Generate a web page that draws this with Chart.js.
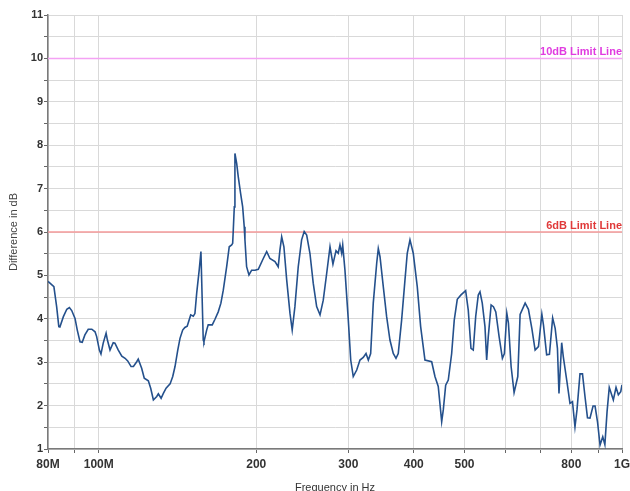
<!DOCTYPE html>
<html>
<head>
<meta charset="utf-8">
<title>Difference in dB</title>
<script src="https://cdn.jsdelivr.net/npm/chart.js@4/dist/chart.umd.min.js"></script>
<style>
  html, body { margin: 0; padding: 0; background: #fff; }
  #chart { display: block; }
</style>
</head>
<body>
<canvas id="chart" width="630" height="491"></canvas>
<script>
// Measured difference curve, frequency in MHz
const freqMHz = [
    80.0, 80.7, 82.1, 83.1, 83.9, 84.3, 85.6, 86.9, 87.9, 88.8,
    90.1, 91.0, 92.1, 93.0, 94.1, 95.5, 97.0, 98.4, 99.1, 100.3,
    101.0, 102.0, 103.3, 103.9, 105.1, 106.6, 107.4, 109.0, 110.7, 112.3,
    113.6, 115.3, 116.5, 118.2, 119.0, 120.8, 122.2, 124.4, 125.7, 127.2,
    129.1, 130.0, 131.6, 132.9, 134.5, 136.9, 138.5, 139.9, 141.6, 143.0,
    144.7, 146.1, 147.6, 149.9, 151.6, 152.7, 153.9, 155.6, 156.8, 158.4,
    158.9, 160.8, 161.9, 164.8, 166.8, 169.2, 171.2, 173.0, 175.6, 177.6,
    179.5, 180.3, 180.8, 181.6, 182.1, 183.5, 184.8, 186.7, 188.4, 189.7,
    190.3, 191.7, 193.7, 196.0, 198.9, 201.8, 206.3, 209.4, 212.4, 217.2,
    220.3, 222.0, 223.7, 225.9, 228.7, 232.0, 234.3, 237.1, 240.6, 244.2,
    247.0, 249.7, 253.3, 257.0, 260.9, 264.8, 268.6, 272.7, 276.7, 280.3,
    284.1, 286.9, 289.1, 291.3, 292.6, 295.5, 299.9, 303.1, 306.5, 311.2,
    315.7, 320.3, 324.2, 327.5, 330.9, 334.7, 339.8, 342.2, 344.8, 349.8,
    355.0, 360.2, 365.5, 369.9, 373.6, 379.2, 384.8, 388.7, 393.4, 399.1,
    406.2, 412.3, 420.2, 432.8, 439.1, 445.5, 452.3, 455.5, 460.3, 465.6,
    472.6, 478.0, 484.4, 492.4, 499.6, 502.6, 508.4, 514.5, 519.7, 525.3,
    531.3, 535.3, 540.7, 547.2, 551.3, 555.2, 562.2, 567.9, 573.9, 582.3,
    590.8, 596.0, 602.4, 606.7, 613.9, 622.0, 632.2, 638.7, 653.0, 662.5,
    672.5, 682.3, 692.4, 702.8, 707.8, 717.8, 726.7, 737.0, 745.2, 752.7,
    757.8, 766.9, 772.3, 784.0, 795.4, 804.2, 813.1, 820.3, 831.2, 840.4,
    849.7, 859.1, 868.6, 880.4, 888.2, 898.0, 907.9, 918.8, 927.4, 936.4,
    945.5, 957.2, 962.6, 974.1, 984.1, 994.5, 1000
];
const diffDb = [
    4.86, 4.82, 4.74, 4.28, 3.82, 3.81, 4.05, 4.22, 4.26, 4.19,
    4.01, 3.74, 3.47, 3.46, 3.63, 3.76, 3.76, 3.70, 3.59, 3.28,
    3.19, 3.44, 3.67, 3.51, 3.28, 3.45, 3.44, 3.28, 3.14, 3.09,
    3.03, 2.90, 2.90, 3.01, 3.07, 2.86, 2.63, 2.57, 2.40, 2.13,
    2.21, 2.27, 2.17, 2.28, 2.40, 2.50, 2.67, 2.90, 3.28, 3.55,
    3.74, 3.80, 3.83, 4.09, 4.06, 4.12, 4.59, 5.12, 5.55, 3.51,
    3.47, 3.74, 3.86, 3.86, 3.99, 4.16, 4.36, 4.66, 5.20, 5.66,
    5.70, 5.74, 6.05, 6.58, 7.81, 7.58, 7.27, 6.89, 6.58, 6.12,
    5.82, 5.20, 5.01, 5.12, 5.12, 5.14, 5.39, 5.55, 5.39, 5.32,
    5.20, 5.59, 5.89, 5.66, 4.89, 4.13, 3.74, 4.28, 5.20, 5.82,
    6.01, 5.93, 5.51, 4.82, 4.28, 4.09, 4.43, 5.05, 5.66, 5.26,
    5.57, 5.51, 5.70, 5.51, 5.70, 5.12, 3.97, 3.05, 2.67, 2.82,
    3.05, 3.11, 3.20, 3.05, 3.20, 4.36, 5.28, 5.62, 5.43, 4.74,
    4.05, 3.51, 3.20, 3.09, 3.20, 3.97, 4.89, 5.51, 5.82, 5.51,
    4.74, 3.82, 3.05, 3.01, 2.67, 2.44, 1.63, 1.90, 2.47, 2.59,
    3.20, 3.97, 4.45, 4.55, 4.62, 4.65, 4.20, 3.32, 3.28, 4.05,
    4.55, 4.62, 4.36, 3.82, 3.05, 3.59, 4.32, 4.28, 4.16, 3.59,
    3.09, 3.20, 4.13, 3.90, 2.90, 2.30, 2.67, 4.10, 4.36, 4.22,
    3.78, 3.28, 3.36, 4.11, 3.86, 3.17, 3.18, 4.02, 3.78, 3.32,
    2.28, 3.45, 3.13, 2.59, 2.05, 2.09, 1.51, 1.90, 2.73, 2.73,
    2.21, 1.72, 1.71, 1.99, 1.99, 1.62, 1.09, 1.28, 1.10, 1.86,
    2.42, 2.22, 2.13, 2.42, 2.25, 2.32, 2.48
];

// Limit lines
const limitLevels = [10, 6];
const limitNames = ["10dB Limit Line", "6dB Limit Line"];
const limitLineColors = ["#f4a2f4", "#f49a9a"];
const limitTextColors = ["#e03ce0", "#e03a3a"];

// Frequency axis grid and labels
const freqTicks = [80, 90, 100, 200, 300, 400, 500, 600, 700, 800, 900, 1000];
const freqTickLabels = ["80M", "", "100M", "200", "300", "400", "500", "", "", "800", "", "1G"];

const FONT = '"Liberation Sans", Arial, Helvetica, sans-serif';

// Text labels sitting above each limit line, right aligned
const limitLabelPlugin = {
    id: "limitLabels",
    afterDatasetsDraw(chart) {
        const { ctx, chartArea, scales } = chart;
        chart.data.datasets.forEach(ds => {
            if (!ds.limitText) return;
            const py = scales.y.getPixelForValue(ds.data[0].y);
            ctx.save();
            ctx.font = "bold 11px " + FONT;
            ctx.fillStyle = ds.limitTextColor;
            ctx.textAlign = "right";
            ctx.textBaseline = "alphabetic";
            ctx.fillText(ds.limitText, chartArea.right, py - 3);
            ctx.restore();
        });
    }
};

const datasets = [{
    label: "Difference",
    data: freqMHz.map((f, i) => ({ x: f, y: diffDb[i] })),
    borderColor: "#24508c",
    borderWidth: 1.6,
    pointRadius: 0,
    tension: 0
}];

limitLevels.forEach((lvl, i) => {
    datasets.push({
        label: limitNames[i],
        data: [{ x: freqTicks[0], y: lvl }, { x: freqTicks[freqTicks.length - 1], y: lvl }],
        borderColor: limitLineColors[i],
        borderWidth: 1.5,
        pointRadius: 0,
        limitText: limitNames[i],
        limitTextColor: limitTextColors[i]
    });
});

new Chart(document.getElementById("chart"), {
    type: "line",
    data: { datasets: datasets },
    options: {
        responsive: false,
        animation: false,
        events: [],
        layout: { padding: { top: 15, right: 8, left: 0, bottom: 0 } },
        plugins: {
            legend: { display: false },
            tooltip: { enabled: false }
        },
        scales: {
            x: {
                type: "logarithmic",
                min: 80,
                max: 1000,
                afterBuildTicks: scale => {
                    scale.ticks = freqTicks.map(v => ({ value: v }));
                },
                afterFit: scale => {
                    scale.height = 42;
                    // let "1G" hang into the right margin instead of shrinking the plot
                    scale.paddingLeft = 0;
                    scale.paddingRight = 0;
                },
                ticks: {
                    autoSkip: false,
                    maxRotation: 0,
                    padding: 4,
                    color: "#333",
                    font: { family: FONT, size: 12, weight: "bold" },
                    callback: (value, index) => freqTickLabels[index]
                },
                grid: { color: "#d9d9d9", tickColor: "#666", tickLength: 4 },
                border: { color: "#7a7a7a", width: 1.5 },
                title: {
                    display: true,
                    text: "Frequency in Hz",
                    color: "#333",
                    font: { family: FONT, size: 11 },
                    padding: { top: 0, bottom: -4 }
                }
            },
            y: {
                min: 1,
                max: 11,
                afterFit: scale => { scale.width = 48; },
                ticks: {
                    stepSize: 0.5,
                    padding: 1,
                    color: "#333",
                    font: { family: FONT, size: 11, weight: "bold" },
                    callback: v => Number.isInteger(v) ? String(v) : ""
                },
                grid: { color: "#d9d9d9", tickColor: "#666", tickLength: 4 },
                border: { color: "#7a7a7a", width: 1.5 },
                title: {
                    display: true,
                    text: "Difference in dB",
                    color: "#444",
                    font: { family: FONT, size: 11 },
                    padding: { top: 7, bottom: 0 }
                }
            }
        }
    },
    plugins: [limitLabelPlugin]
});
</script>
</body>
</html>
